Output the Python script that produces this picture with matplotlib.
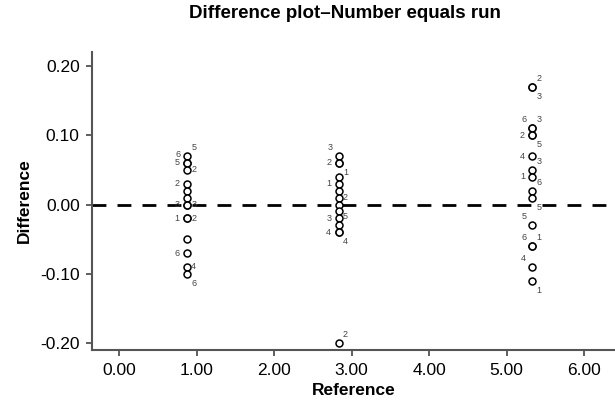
import matplotlib
matplotlib.use('Agg')
import matplotlib.pyplot as plt

plt.rcParams['font.family'] = ['Liberation Sans', 'DejaVu Sans']

# x position of each reference group
ref_x = [0.87, 2.83, 5.33]

# differences per group, with the run number shown next to each point ('' = no label)
diff_1 = [0.07, 0.06, 0.06, 0.05, 0.03, 0.02, 0.01, 0.00, 0.00, -0.02, -0.02, -0.05, -0.07, -0.09, -0.10]
runs_1 = ['5', '5', '6', '2', '2', '', '', '3', '3', '1', '2', '', '6', '4', '6']
diff_2 = [0.07, 0.06, 0.06, 0.04, 0.03, 0.02, 0.01, 0.00, -0.01, -0.02, -0.03, -0.04, -0.04, -0.20]
runs_2 = ['3', '2', '1', '', '1', '', '2', '', '', '3', '5', '4', '4', '2']
diff_3 = [0.17, 0.17, 0.11, 0.11, 0.10, 0.10, 0.07, 0.05, 0.04, 0.02, 0.01, -0.03, -0.06, -0.06, -0.09, -0.11]
runs_3 = ['2', '3', '6', '3', '2', '5', '4', '3', '1', '6', '5', '5', '1', '6', '4', '1']

xticks = [0, 1, 2, 3, 4, 5, 6]
yticks = [-0.20, -0.10, 0.00, 0.10, 0.20]

# label placement around the point (offset in points)
offsets = {'ur': (5, 6), 'r': (5, 0), 'lr': (5, -7), 'ul': (-6, 6), 'l': (-7, 0), 'll': (-7, -6)}
place_1 = ['ur', 'l', 'ul', 'r', 'l', '', '', 'l', 'r', 'l', 'r', '', 'l', 'r', 'lr']
place_2 = ['ul', 'l', 'lr', '', 'l', '', 'r', '', '', 'l', 'ur', 'l', 'lr', 'ur']
place_3 = ['ur', 'lr', 'ul', 'ur', 'l', 'lr', 'l', 'ur', 'l', 'ur', 'lr', 'ul', 'ur', 'ul', 'ul', 'lr']

fig = plt.figure(figsize=(6.15, 4.07), dpi=100)
ax = fig.add_axes([0.150, 0.140, 0.850, 0.732])

ax.axhline(0, color='black', lw=2, ls=(0, (5, 4)), zorder=1)

groups = [(diff_1, runs_1, place_1), (diff_2, runs_2, place_2), (diff_3, runs_3, place_3)]
for gx, (vals, runs, places) in zip(ref_x, groups):
    ax.plot([gx] * len(vals), vals, 'o', ms=5, mfc='white', mec='black', mew=1.1, zorder=3)
    for v, r, p in zip(vals, runs, places):
        if not r:
            continue
        ax.annotate(r, (gx, v), xytext=offsets[p], textcoords='offset points',
                    ha='center', va='center', fontsize=6.5, color='#444444')

ax.set_xlim(-0.35, 6.4)
ax.set_ylim(-0.21, 0.22)
ax.set_xticks(xticks)
ax.set_xticklabels([f'{t:.2f}' for t in xticks])
ax.set_yticks(yticks)
ax.set_yticklabels([f'{t:.2f}' for t in yticks])
ax.tick_params(labelsize=12.5, length=4, width=1.2, color='#444444', pad=5)

for side in ['top', 'right']:
    ax.spines[side].set_visible(False)
for side in ['left', 'bottom']:
    ax.spines[side].set_color('#555555')
    ax.spines[side].set_linewidth(1.5)

ax.set_xlabel('Reference', fontsize=12.5, fontweight='bold', labelpad=4)
ax.set_ylabel('Difference', fontsize=12.5, fontweight='bold', labelpad=6)
fig.text(0.561, 0.967, 'Difference plot\u2013Number equals run', ha='center', va='center',
         fontsize=13.5, fontweight='bold')

fig.savefig('out.png', dpi=100)
